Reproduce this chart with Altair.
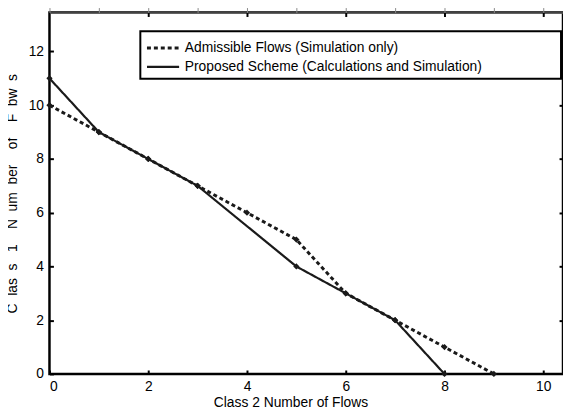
import altair as alt
import pandas as pd

# ---- data ----
series = ["Admissible Flows (Simulation only)",
          "Proposed Scheme (Calculations and Simulation)"]
adm_x = [0, 1, 2, 3, 4, 5, 6, 7, 8, 9]
adm_y = [10, 9, 8, 7, 6, 5, 3, 2, 1, 0]
prop_x = [0, 1, 2, 3, 5, 6, 7, 8]
prop_y = [11, 9, 8, 7, 4, 3, 2, 0]
x_ticks = [0, 2, 4, 6, 8, 10]
y_ticks = [0, 2, 4, 6, 8, 10, 12]

df = pd.concat([
    pd.DataFrame({"x": adm_x, "y": adm_y, "series": series[0]}),
    pd.DataFrame({"x": prop_x, "y": prop_y, "series": series[1]}),
], ignore_index=True)
df["order"] = range(len(df))

# tiny table just to carry the top / right tick axes
frame_df = pd.DataFrame({"x": [x_ticks[0], x_ticks[-1]], "y": [y_ticks[0], y_ticks[-1]]})

FONT = "Liberation Sans"
NB = "\u00a0"
xscale = alt.Scale(domain=[0, 10.4], nice=False, zero=False)
yscale = alt.Scale(domain=[0, 13.45], nice=False, zero=False)

x_axis = alt.Axis(values=x_ticks, title="Class 2 Number of Flows", offset=-4, tickSize=4,
                  tickColor="black", tickWidth=2, domain=False, grid=False, labelPadding=6,
                  labelFont=FONT, labelFontSize=14, labelColor="black",
                  titleFont=FONT, titleFontSize=14, titleFontWeight="normal", titleColor="black",
                  titleX=244, titleY=33, titleBaseline="middle")
y_words = ["C", "las", "s", "1", "N", "um", "ber", "of", "F", "bw", "s"]
y_gaps = [2, 2, 3, 4, 2, 2, 4, 4, 2, 2]
y_title = y_words[0] + "".join(NB * g + w for g, w in zip(y_gaps, y_words[1:]))
y_axis = alt.Axis(values=y_ticks, title=y_title, offset=-4, tickSize=4,
                  tickColor="black", tickWidth=2, domain=False, grid=False, labelPadding=6,
                  labelFont=FONT, labelFontSize=14, labelColor="black",
                  titleFont=FONT, titleFontSize=14, titleFontWeight="normal", titleColor="black",
                  titleX=-41, titleY=183, titleBaseline="middle")

pad = NB * 19 + "\u200b"
lines = alt.Chart(df).mark_line(color="#1a1a1a", aria=False).encode(
    x=alt.X("x:Q", scale=xscale, axis=x_axis),
    y=alt.Y("y:Q", scale=yscale, axis=y_axis),
    strokeDash=alt.StrokeDash(
        "series:N",
        scale=alt.Scale(domain=series, range=[[4, 3], [1, 0]]),
        legend=alt.Legend(title=None, orient="none", legendX=92, legendY=19,
                          symbolType="M-1.55,0L1.55,0", symbolSize=441, symbolStrokeWidth=2.5,
                          symbolStrokeColor="#1a1a1a", symbolOffset=6, labelOffset=10,
                          labelFont=FONT, labelFontSize=14, labelLimit=1000,
                          labelColor="black", rowPadding=0, padding=5,
                          labelExpr="datum.label + '" + pad + "'"),
    ),
    strokeWidth=alt.StrokeWidth("series:N", scale=alt.Scale(domain=series, range=[3, 2.2]),
                                legend=None),
    order="order:Q",
)

points = alt.Chart(df).mark_point(filled=True, color="#1a1a1a", shape="diamond", size=40,
                                  opacity=1, aria=False).encode(
    x=alt.X("x:Q", scale=xscale),
    y=alt.Y("y:Q", scale=yscale),
)

frame = alt.Chart(frame_df).mark_point(opacity=0, size=0, aria=False).encode(
    x=alt.X("x:Q", scale=xscale,
            axis=alt.Axis(orient="top", values=x_ticks[1:], labels=False, title=None, offset=-4,
                          tickSize=4, tickWidth=2, tickColor="black", domain=False, grid=False)),
    y=alt.Y("y:Q", scale=yscale,
            axis=alt.Axis(orient="right", values=y_ticks[1:], labels=False, title=None, offset=-4,
                          tickSize=4, tickWidth=2, tickColor="black", domain=False, grid=False)),
)

chart = alt.layer(lines, points, frame).resolve_axis(x="independent", y="independent").properties(
    width=520, height=366,
    autosize=alt.AutoSizeParams(type="none"),
    padding={"left": 42, "top": 2, "right": 0, "bottom": 40},
    background="white",
).configure_view(stroke="black", strokeWidth=2.5).configure_legend(
    strokeColor="black", strokeWidth=2, fillColor="white")

chart.save("out.html", embed_options={"renderer": "svg", "actions": False})
